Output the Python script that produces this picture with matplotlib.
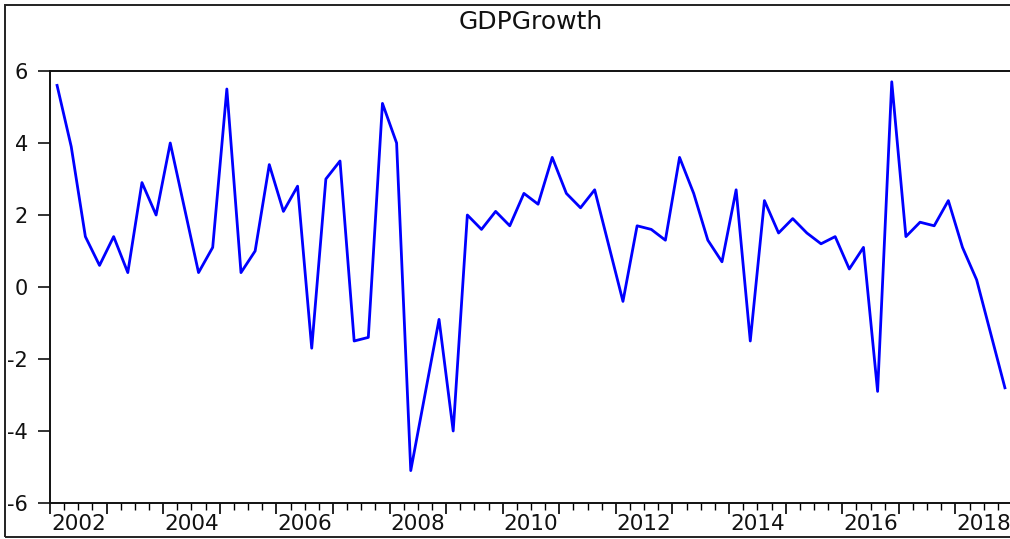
import numpy as np
import matplotlib
matplotlib.use("Agg")
import matplotlib.pyplot as plt
from matplotlib.patches import Rectangle

# quarterly GDP growth, 2002Q1 - 2018Q4
start_year = 2002
gdp_growth = [5.6, 3.9, 1.4, 0.6, 1.4, 0.4, 2.9, 2.0,
              4.0, 2.2, 0.4, 1.1, 5.5, 0.4, 1.0, 3.4,
              2.1, 2.8, -1.7, 3.0, 3.5, -1.5, -1.4, 5.1,
              4.0, -5.1, -3.0, -0.9, -4.0, 2.0, 1.6, 2.1,
              1.7, 2.6, 2.3, 3.6, 2.6, 2.2, 2.7, 1.15,
              -0.4, 1.7, 1.6, 1.3, 3.6, 2.6, 1.3, 0.7,
              2.7, -1.5, 2.4, 1.5, 1.9, 1.5, 1.2, 1.4,
              0.5, 1.1, -2.9, 5.7, 1.4, 1.8, 1.7, 2.4,
              1.1, 0.2, -1.3, -2.8]
year_labels = ["2002", "2004", "2006", "2008", "2010", "2012", "2014", "2016", "2018"]
y_ticks = [-6, -4, -2, 0, 2, 4, 6]

n = len(gdp_growth)
# each quarter sits in the middle of its slot
t = start_year + (np.arange(n) + 0.5) / 4.0

plt.rcParams['font.family'] = ['DejaVu Sans']

fig = plt.figure(figsize=(10.1, 5.39), dpi=100)
ax = fig.add_axes([50/1010, 36/539, 962/1010, 432/539])

ax.plot(t, gdp_growth, color='#0000ff', lw=2.0)

ax.set_xlim(start_year, start_year + n / 4.0)
ax.set_ylim(-6, 6)

# y axis
ax.set_yticks(y_ticks)
ax.set_yticklabels([str(v) for v in y_ticks])
ax.tick_params(axis='y', direction='out', length=9, width=1.2, pad=7,
               labelsize=15, colors='#111111')

# x axis: year ticks, quarter minor ticks, labels centred on the year
ax.set_xticks(np.arange(start_year, start_year + n // 4 + 1))
ax.set_xticklabels([])
ax.set_xticks(np.arange(start_year, start_year + n / 4.0 + 0.01, 0.25), minor=True)
ax.tick_params(axis='x', which='major', direction='out', length=8, width=1.2)
ax.tick_params(axis='x', which='minor', direction='out', length=5, width=1.0)

sec = ax.secondary_xaxis('bottom')
sec.set_xticks([int(y) + 0.5 for y in year_labels])
sec.set_xticklabels(year_labels)
sec.tick_params(length=0, pad=8, labelsize=15.5, colors='#111111')
sec.spines['bottom'].set_visible(False)

for s in ['left', 'bottom', 'top']:
    ax.spines[s].set_linewidth(1.4)
    ax.spines[s].set_color('#111111')
ax.spines['right'].set_visible(False)

ax.set_title('GDPGrowth', fontsize=18, pad=30, color='#111111')

# outer frame round the whole graph
fig.patches.append(Rectangle((5/1010, 2/539), 1.1, 532/539, transform=fig.transFigure,
                             fill=False, lw=1.4, edgecolor='#222222'))

fig.savefig('out.png', dpi=100)
